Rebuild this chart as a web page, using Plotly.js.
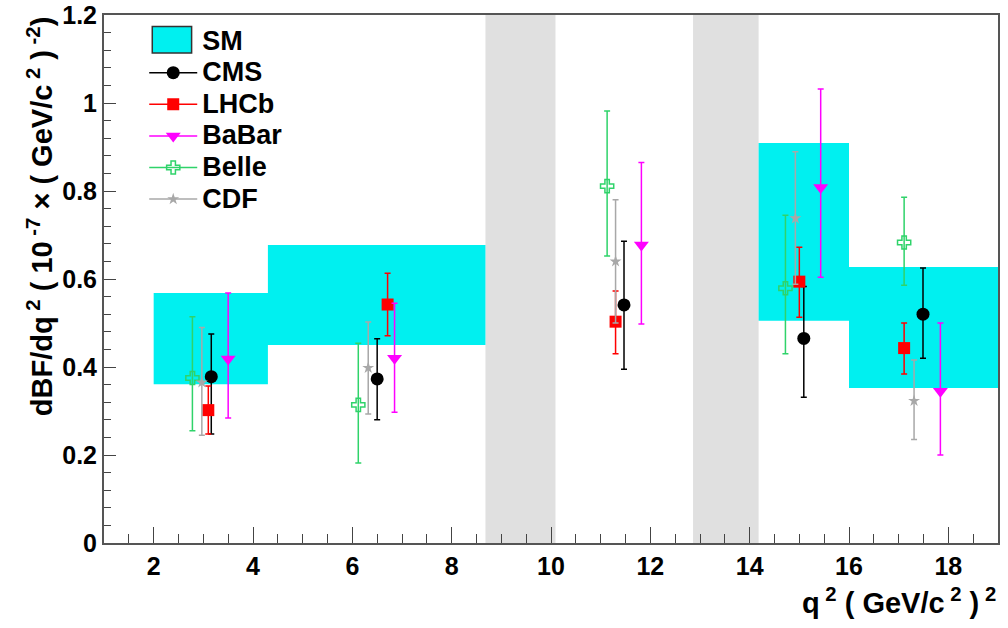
<!DOCTYPE html>
<html>
<head>
<meta charset="utf-8">
<script src="https://cdn.plot.ly/plotly-3.0.1.min.js"></script>
<style>html,body{margin:0;padding:0;background:#fff;}#plot{width:1008px;height:628px;}</style>
</head>
<body>
<div id="plot"></div>
<script>
// ---- Data ----
const smBinLo = [2.0, 4.3, 14.18, 16.0];
const smBinHi = [4.3, 8.68, 16.0, 19.0];
const smLow  = [0.361, 0.450, 0.505, 0.352];
const smHigh = [0.568, 0.677, 0.909, 0.627];

const vetoLo = [8.68, 12.86];
const vetoHi = [10.09, 14.18];

const cmsX = [3.16, 6.50, 11.47, 15.09, 17.49];
const cmsY = [0.378, 0.373, 0.541, 0.465, 0.520];
const cmsEp = [0.097, 0.091, 0.145, 0.118, 0.105];
const cmsEm = [0.130, 0.093, 0.146, 0.134, 0.100];

const lhcbX = [3.10, 6.71, 11.30, 15.00, 17.11];
const lhcbY = [0.302, 0.542, 0.503, 0.594, 0.443];
const lhcbEp = [0.055, 0.071, 0.070, 0.078, 0.057];
const lhcbEm = [0.054, 0.071, 0.073, 0.081, 0.059];

const babarX = [3.50, 6.85, 11.82, 15.43, 17.84];
const babarY = [0.418, 0.420, 0.677, 0.808, 0.345];
const babarEp = [0.150, 0.125, 0.188, 0.224, 0.155];
const babarEm = [0.134, 0.123, 0.179, 0.204, 0.145];

const belleX = [2.78, 6.12, 11.13, 14.72, 17.11];
const belleY = [0.375, 0.314, 0.811, 0.579, 0.683];
const belleEp = [0.139, 0.140, 0.171, 0.166, 0.103];
const belleEm = [0.120, 0.132, 0.159, 0.149, 0.097];

const cdfX = [2.97, 6.32, 11.30, 14.92, 17.31];
const cdfY = [0.365, 0.398, 0.640, 0.738, 0.323];
const cdfEp = [0.125, 0.104, 0.140, 0.151, 0.093];
const cdfEm = [0.120, 0.105, 0.140, 0.150, 0.088];

const xTicks = [2, 4, 6, 8, 10, 12, 14, 16, 18];
const yTicks = [0, 0.2, 0.4, 0.6, 0.8, 1, 1.2];

// ---- Build ----
const FONT = 'Liberation Sans, Arial, sans-serif';
const cyan = '#00f0f0';
const smPX = [], smPY = [];
for (let i = 0; i < smBinLo.length; i++) {
  smPX.push(smBinLo[i], smBinHi[i], smBinHi[i], smBinLo[i], smBinLo[i], null);
  smPY.push(smLow[i], smLow[i], smHigh[i], smHigh[i], smLow[i], null);
}
function lg(name) { return '<span style="font-size:27px">' + name + '</span>'; }

const traces = [];
traces.push({x: smPX, y: smPY, type: 'scatter', mode: 'lines', fill: 'toself',
  fillcolor: cyan, line: {color: cyan, width: 0}, showlegend: false, hoverinfo: 'skip'});
// legend entry for SM (icon drawn as a paper-space box below)
traces.push({x: [null], y: [null], type: 'scatter', mode: 'markers', name: lg('SM'), showlegend: true,
  marker: {symbol: 'square', size: 10, color: 'rgba(0,0,0,0)', line: {width: 0}}});

function series(name, xs, ys, ep, em, color, symbol, size, lw) {
  traces.push({x: xs, y: ys, type: 'scatter', mode: 'markers', name: name, showlegend: false,
    marker: {color: color, symbol: symbol, size: size, line: {color: color, width: lw || 0}},
    error_y: {type: 'data', symmetric: false, array: ep, arrayminus: em,
      color: color, thickness: 1.5, width: 3}});
  traces.push({x: [null], y: [null], type: 'scatter', mode: 'lines+markers', name: lg(name),
    line: {color: color, width: 1.5},
    marker: {color: color, symbol: symbol, size: size, line: {color: color, width: lw || 0}}});
}
series('CMS', cmsX, cmsY, cmsEp, cmsEm, '#000000', 'circle', 13);
series('LHCb', lhcbX, lhcbY, lhcbEp, lhcbEm, '#ff0000', 'square', 12);
series('BaBar', babarX, babarY, babarEp, babarEm, '#ff00ff', 'triangle-down', 13);
series('Belle', belleX, belleY, belleEp, belleEm, '#2fd36a', 'cross-open', 11, 1.5);
series('CDF', cdfX, cdfY, cdfEp, cdfEm, '#a8a8a8', 'star', 9);

const shapes = [];
for (let i = 0; i < vetoLo.length; i++) {
  shapes.push({type: 'rect', xref: 'x', yref: 'paper', x0: vetoLo[i], x1: vetoHi[i], y0: 0, y1: 1,
    fillcolor: '#e0e0e0', line: {width: 0}, layer: 'below'});
}
// SM legend box
shapes.push({type: 'rect', xref: 'paper', yref: 'paper', x0: 0.054, x1: 0.098, y0: 0.928, y1: 0.978,
  fillcolor: cyan, line: {color: '#333', width: 1.5}, layer: 'above'});

const tickFont = {family: FONT, size: 25, color: '#000', weight: 'bold'};

const layout = {
  width: 1008, height: 628,
  margin: {l: 104, r: 10, t: 15, b: 85},
  paper_bgcolor: '#fff', plot_bgcolor: '#fff',
  showlegend: true,
  legend: {x: 0.045, y: 0.99, xanchor: 'left', yanchor: 'top', bgcolor: 'rgba(0,0,0,0)',
    font: {family: FONT, size: 22, color: '#000', weight: 'bold'},
    itemwidth: 48, tracegroupgap: 0},
  xaxis: {range: [1, 19], tickvals: xTicks, ticktext: xTicks.map(String), ticks: 'inside', ticklen: 16,
    tickwidth: 1, tickcolor: '#444', showgrid: false, zeroline: false,
    showline: true, linecolor: '#555', linewidth: 2, mirror: true, tickfont: tickFont,
    minor: {dtick: 0.5, ticks: 'inside', ticklen: 9, tickcolor: '#444', showgrid: false}},
  yaxis: {range: [0, 1.2], tickvals: yTicks, ticktext: yTicks.map(String), ticks: 'inside', ticklen: 12,
    tickwidth: 1, tickcolor: '#444', showgrid: false, zeroline: false,
    showline: true, linecolor: '#555', linewidth: 2, mirror: true, tickfont: tickFont,
    minor: {dtick: 0.04, ticks: 'inside', ticklen: 7, tickcolor: '#444', showgrid: false}},
  shapes: shapes,
  annotations: [
    {xref: 'paper', yref: 'paper', x: -0.072, y: 1.0, xanchor: 'center', yanchor: 'top', textangle: -90,
      showarrow: false, text: 'dBF/dq<sup> 2</sup> ( 10<sup> -7</sup> × ( GeV/c<sup> 2</sup> )<sup> -2</sup>)',
      font: {family: FONT, size: 29, color: '#000', weight: 'bold'}},
    {xref: 'paper', yref: 'paper', x: 1.0, y: -0.11, xanchor: 'right', yanchor: 'middle',
      showarrow: false, text: 'q<sup> 2</sup> ( GeV/c<sup> 2</sup> )<sup> 2</sup>',
      font: {family: FONT, size: 29, color: '#000', weight: 'bold'}}
  ]
};

Plotly.newPlot('plot', traces, layout, {displayModeBar: false, staticPlot: true});
</script>
</body>
</html>
